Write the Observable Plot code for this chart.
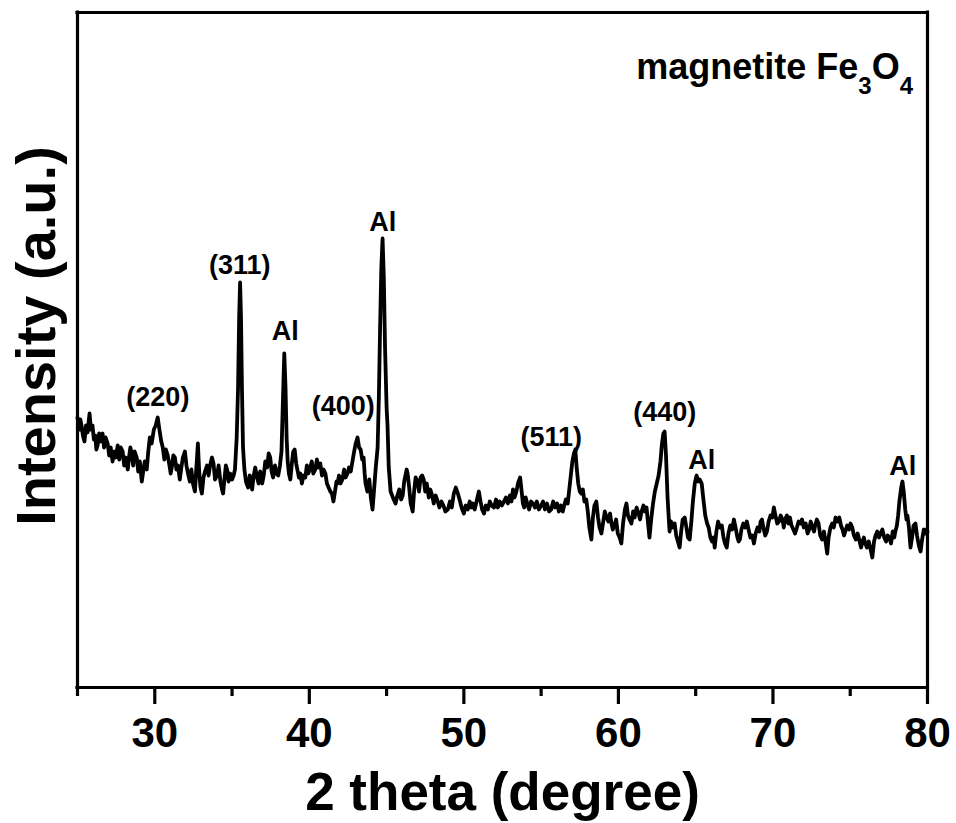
<!DOCTYPE html>
<html>
<head>
<meta charset="utf-8">
<script src="https://cdn.jsdelivr.net/npm/d3@7"></script>
<script src="https://cdn.jsdelivr.net/npm/@observablehq/plot@0.6"></script>
<style>
  html, body { margin: 0; padding: 0; background: #fff; }
  #chart svg { display: block; }
</style>
</head>
<body>
<div id="chart"></div>
<script>
// 2θ (degree)
const theta = [
  25.00, 25.10, 25.18, 25.26, 25.35, 25.45, 25.55, 25.65, 25.78, 25.87,
  25.97, 26.06, 26.15, 26.22, 26.30, 26.40, 26.50, 26.62, 26.72, 26.82,
  26.95, 27.05, 27.15, 27.27, 27.38, 27.48, 27.60, 27.70, 27.80, 27.92,
  28.02, 28.12, 28.25, 28.35, 28.42, 28.51, 28.60, 28.70, 28.83, 28.93,
  29.03, 29.16, 29.25, 29.35, 29.48, 29.58, 29.68, 29.80, 29.94, 30.06,
  30.19, 30.30, 30.42, 30.52, 30.62, 30.72, 30.84, 30.95, 31.03, 31.10,
  31.20, 31.30, 31.40, 31.50, 31.62, 31.72, 31.82, 31.95, 32.05, 32.15,
  32.27, 32.37, 32.47, 32.60, 32.70, 32.79, 32.88, 32.96, 33.05, 33.15,
  33.25, 33.38, 33.48, 33.58, 33.70, 33.80, 33.90, 34.03, 34.13, 34.25,
  34.35, 34.42, 34.52, 34.60, 34.68, 34.78, 34.88, 35.00, 35.10, 35.19,
  35.30, 35.39, 35.46, 35.52, 35.58, 35.64, 35.71, 35.80, 35.90, 36.04,
  36.14, 36.22, 36.30, 36.40, 36.50, 36.62, 36.72, 36.82, 36.95, 37.05,
  37.15, 37.27, 37.37, 37.47, 37.56, 37.66, 37.78, 37.88, 37.99, 38.10,
  38.20, 38.28, 38.38, 38.46, 38.53, 38.60, 38.68, 38.77, 38.87, 38.96,
  39.05, 39.15, 39.25, 39.33, 39.42, 39.52, 39.62, 39.74, 39.84, 39.94,
  40.06, 40.16, 40.26, 40.39, 40.49, 40.59, 40.71, 40.82, 40.92, 41.04,
  41.14, 41.25, 41.36, 41.46, 41.56, 41.66, 41.76, 41.82, 41.92, 42.02,
  42.14, 42.25, 42.35, 42.47, 42.57, 42.68, 42.79, 42.90, 43.00, 43.12,
  43.22, 43.32, 43.42, 43.51, 43.58, 43.64, 43.76, 43.88, 43.98, 44.09,
  44.18, 44.30, 44.42, 44.50, 44.58, 44.66, 44.74, 44.82, 44.90, 45.00,
  45.06, 45.14, 45.26, 45.36, 45.46, 45.58, 45.70, 45.82, 45.94, 46.04,
  46.14, 46.22, 46.30, 46.36, 46.46, 46.56, 46.69, 46.78, 46.88, 47.01,
  47.10, 47.20, 47.30, 47.40, 47.50, 47.60, 47.73, 47.83, 47.95, 48.05,
  48.18, 48.31, 48.42, 48.55, 48.68, 48.80, 48.96, 49.10, 49.22, 49.35,
  49.48, 49.61, 49.72, 49.85, 50.00, 50.12, 50.25, 50.38, 50.48, 50.58,
  50.70, 50.82, 50.97, 51.08, 51.18, 51.30, 51.42, 51.55, 51.68, 51.80,
  51.95, 52.08, 52.20, 52.32, 52.45, 52.60, 52.72, 52.85, 52.98, 53.08,
  53.18, 53.28, 53.40, 53.50, 53.64, 53.74, 53.82, 53.90, 54.00, 54.10,
  54.22, 54.35, 54.48, 54.60, 54.72, 54.85, 55.00, 55.12, 55.25, 55.38,
  55.52, 55.65, 55.78, 55.90, 56.03, 56.15, 56.28, 56.40, 56.49, 56.60,
  56.72, 56.82, 56.92, 57.02, 57.12, 57.21, 57.30, 57.40, 57.50, 57.60,
  57.70, 57.80, 57.92, 58.02, 58.12, 58.25, 58.35, 58.45, 58.57, 58.68,
  58.78, 58.90, 59.00, 59.12, 59.24, 59.35, 59.46, 59.55, 59.64, 59.74,
  59.85, 59.96, 60.08, 60.19, 60.30, 60.42, 60.52, 60.62, 60.72, 60.84,
  60.95, 61.05, 61.18, 61.30, 61.40, 61.50, 61.62, 61.72, 61.82, 61.92,
  62.01, 62.12, 62.24, 62.36, 62.48, 62.60, 62.72, 62.82, 62.91, 62.99,
  63.08, 63.18, 63.31, 63.40, 63.50, 63.64, 63.74, 63.85, 63.96, 64.06,
  64.16, 64.29, 64.40, 64.50, 64.61, 64.72, 64.82, 64.94, 65.06, 65.16,
  65.26, 65.39, 65.50, 65.62, 65.74, 65.84, 65.95, 66.06, 66.16, 66.23,
  66.34, 66.45, 66.57, 66.69, 66.80, 66.90, 67.01, 67.12, 67.24, 67.36,
  67.47, 67.58, 67.70, 67.78, 67.86, 67.96, 68.08, 68.20, 68.31, 68.42,
  68.54, 68.66, 68.77, 68.88, 69.00, 69.12, 69.20, 69.29, 69.38, 69.50,
  69.61, 69.72, 69.84, 69.96, 70.06, 70.16, 70.28, 70.39, 70.50, 70.62,
  70.70, 70.78, 70.90, 71.00, 71.10, 71.20, 71.32, 71.43, 71.55, 71.66,
  71.78, 71.88, 72.00, 72.12, 72.24, 72.34, 72.44, 72.56, 72.66, 72.73,
  72.84, 72.95, 73.06, 73.18, 73.30, 73.42, 73.51, 73.60, 73.72, 73.83,
  73.94, 74.05, 74.18, 74.29, 74.40, 74.50, 74.60, 74.68, 74.80, 74.92,
  75.02, 75.13, 75.24, 75.36, 75.48, 75.58, 75.70, 75.80, 75.88, 75.97,
  76.08, 76.20, 76.32, 76.43, 76.54, 76.64, 76.75, 76.86, 76.96, 77.08,
  77.20, 77.32, 77.42, 77.53, 77.64, 77.75, 77.85, 77.92, 78.02, 78.10,
  78.18, 78.30, 78.38, 78.46, 78.56, 78.64, 78.70, 78.80, 78.90, 79.00,
  79.10, 79.22, 79.32, 79.44, 79.55, 79.65, 79.76, 79.87, 79.95, 80.00
];
// Intensity (a.u.)
const intensity = [
  270, 258, 268, 262, 252, 246, 262, 255, 274, 258,
  262, 248, 252, 238, 242, 254, 246, 254, 240, 250,
  244, 232, 240, 226, 236, 230, 242, 228, 240, 236,
  222, 230, 218, 232, 240, 234, 222, 236, 230, 216,
  226, 206, 216, 226, 218, 236, 250, 244, 258, 262,
  270, 258, 246, 240, 228, 238, 232, 222, 214, 220,
  232, 230, 218, 222, 208, 220, 230, 236, 222, 214,
  206, 218, 204, 196, 222, 244, 214, 200, 194, 210,
  216, 222, 212, 222, 230, 224, 208, 212, 222, 206,
  198, 194, 210, 222, 218, 206, 214, 208, 212, 218,
  250, 300, 370, 405, 370, 300, 240, 218, 206, 200,
  212, 206, 198, 212, 220, 210, 204, 216, 204, 212,
  226, 220, 234, 230, 216, 210, 222, 214, 212, 222,
  236, 280, 334, 300, 250, 226, 214, 208, 224, 236,
  238, 224, 216, 210, 214, 204, 212, 210, 222, 214,
  220, 226, 214, 218, 228, 220, 224, 212, 218, 214,
  204, 200, 196, 194, 186, 196, 206, 204, 212, 204,
  208, 218, 210, 214, 220, 216, 226, 236, 244, 250,
  240, 238, 228, 230, 214, 204, 196, 208, 190, 178,
  196, 220, 240, 290, 360, 420, 449, 410, 340, 280,
  262, 220, 196, 192, 188, 184, 192, 198, 188, 192,
  206, 212, 218, 214, 200, 184, 176, 196, 210, 206,
  196, 210, 212, 208, 196, 204, 190, 198, 192, 184,
  192, 186, 180, 186, 182, 176, 178, 186, 180, 194,
  200, 194, 188, 180, 174, 182, 178, 186, 180, 184,
  178, 186, 196, 186, 178, 174, 182, 178, 186, 182,
  180, 188, 180, 186, 182, 186, 190, 184, 192, 186,
  198, 190, 196, 204, 210, 196, 184, 180, 190, 184,
  178, 186, 184, 180, 186, 178, 182, 186, 178, 184,
  176, 178, 186, 180, 184, 176, 182, 176, 182, 188,
  184, 198, 212, 226, 234, 238, 220, 204, 196, 194,
  198, 186, 188, 176, 160, 148, 170, 182, 186, 170,
  160, 154, 164, 176, 170, 166, 174, 164, 158, 162,
  168, 154, 150, 144, 164, 178, 184, 172, 168, 164,
  176, 170, 180, 174, 168, 176, 182, 176, 180, 164,
  150, 168, 184, 196, 204, 212, 226, 244, 254, 256,
  232, 190, 156, 166, 160, 164, 152, 146, 140, 156,
  168, 170, 160, 150, 148, 166, 186, 204, 212, 206,
  208, 204, 188, 172, 164, 160, 150, 146, 150, 140,
  156, 166, 160, 162, 150, 144, 140, 154, 162, 158,
  168, 160, 150, 146, 148, 158, 164, 160, 166, 158,
  150, 152, 144, 154, 160, 156, 166, 168, 160, 152,
  156, 166, 172, 170, 180, 172, 164, 166, 172, 168,
  160, 168, 172, 164, 170, 162, 158, 154, 160, 166,
  164, 168, 160, 164, 154, 158, 166, 160, 156, 162,
  168, 164, 152, 148, 156, 144, 134, 150, 160, 164,
  160, 170, 166, 170, 162, 158, 152, 156, 162, 158,
  164, 160, 152, 148, 154, 148, 140, 146, 150, 144,
  140, 146, 138, 130, 146, 152, 156, 150, 154, 158,
  150, 146, 152, 150, 144, 156, 150, 156, 162, 172,
  186, 200, 206, 196, 178, 168, 172, 160, 140, 150,
  162, 164, 152, 142, 136, 148, 158, 154, 158, 156
];

// Peak labels
const peakLabels = ["(220)", "(311)", "Al", "(400)", "Al", "(511)", "(440)", "Al", "Al"];
const peakTheta = [30.2, 35.5, 38.45, 42.2, 44.75, 55.65, 63.0, 65.4, 78.4];
const peakIntensity = [290, 422, 356, 281, 465, 250, 275, 227, 221];

// Axis ticks
const majorTicks = [30, 40, 50, 60, 70, 80];
const minorTicks = [25, 35, 45, 55, 65, 75];
const xDomain = [25, 80];
const yDomain = [0, 675];

const xTitle = "2 theta (degree)";
const yTitle = "Intensity (a.u.)";

const data = theta.map((t, i) => ({theta: t, intensity: intensity[i]}));
const labels = peakLabels.map((s, i) => ({text: s, theta: peakTheta[i], intensity: peakIntensity[i]}));

const FONT = "'Liberation Sans', Arial, sans-serif";

const plot = Plot.plot({
  width: 956,
  height: 823,
  marginLeft: 77,
  marginRight: 29,
  marginTop: 12,
  marginBottom: 136,
  style: {fontFamily: FONT, background: "#fff", color: "#000"},
  x: {domain: xDomain},
  y: {domain: yDomain, axis: null},
  marks: [
    Plot.line(data, {x: "theta", y: "intensity", stroke: "#000", strokeWidth: 3.8, strokeLinejoin: "round"}),
    Plot.text(labels, {x: "theta", y: "intensity", text: "text", fontSize: 27, fontWeight: "bold", fill: "#000"}),
    Plot.axisX({ticks: minorTicks, tickSize: 9, strokeWidth: 3.2, text: null, label: null}),
    Plot.axisX({ticks: majorTicks, tickSize: 17, strokeWidth: 3.2, tickPadding: 13, fontSize: 42, fontWeight: "bold", label: null, tickFormat: d => String(d)}),
    Plot.ruleX(xDomain, {stroke: "#000", strokeWidth: 3.2, strokeLinecap: "square"}),
    Plot.ruleY(yDomain, {stroke: "#000", strokeWidth: 3.2, strokeLinecap: "square"}),
    Plot.text([xTitle], {frameAnchor: "bottom", dy: 122, fontSize: 53, fontWeight: "bold", fill: "#000", lineAnchor: "bottom"}),
    Plot.text([yTitle], {frameAnchor: "left", dx: -40, dy: -14, rotate: -90, textAnchor: "middle", fontSize: 56, fontWeight: "bold", fill: "#000"})
  ]
});

document.getElementById("chart").appendChild(plot);

// Annotation with subscripts
const svg = d3.select(plot);
const ann = svg.append("text")
  .attr("x", 913)
  .attr("y", 79)
  .attr("text-anchor", "end")
  .attr("font-family", FONT)
  .attr("font-weight", "bold")
  .attr("font-size", 36)
  .attr("fill", "#000");
ann.append("tspan").text("magnetite Fe");
ann.append("tspan").attr("font-size", 24).attr("dy", 15).text("3");
ann.append("tspan").attr("dy", -15).text("O");
ann.append("tspan").attr("font-size", 24).attr("dy", 15).text("4");
</script>
</body>
</html>
